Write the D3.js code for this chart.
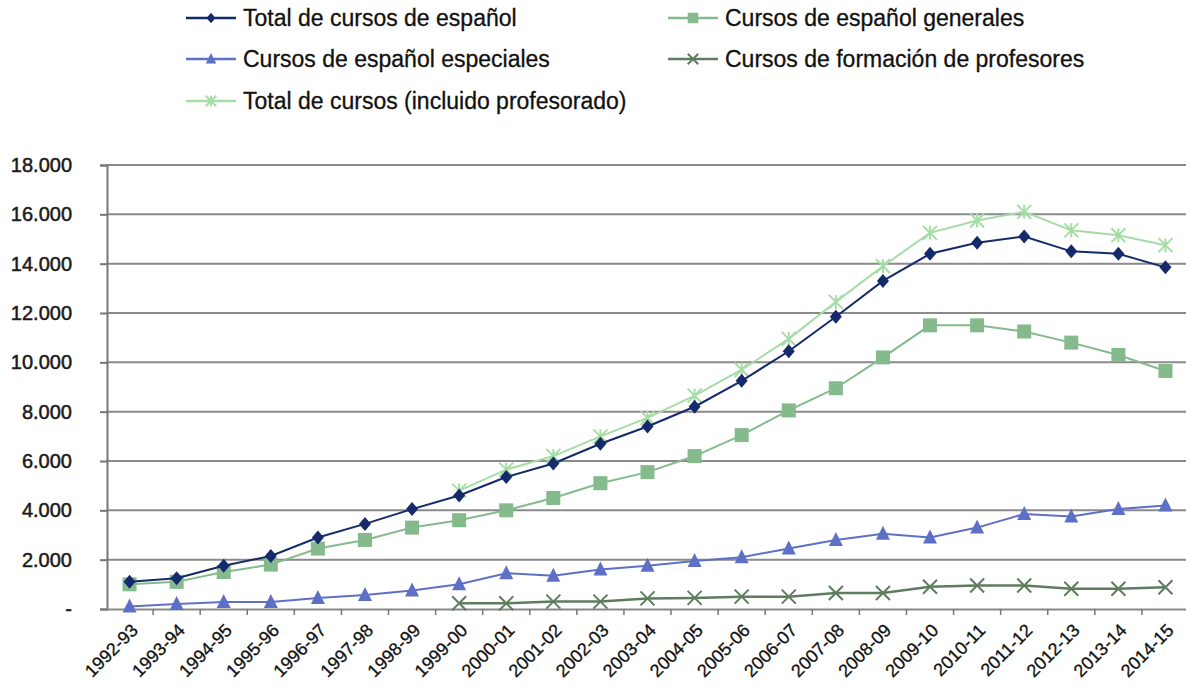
<!DOCTYPE html>
<html><head><meta charset="utf-8">
<script src="https://cdn.jsdelivr.net/npm/d3@7"></script>
<style>body{margin:0;background:#fff}svg{display:block}text{font-family:"Liberation Sans",Arial,sans-serif}</style>
</head><body>
<svg id="c" width="1186" height="686"></svg>
<script>
const categories = ["1992-93","1993-94","1994-95","1995-96","1996-97","1997-98","1998-99","1999-00","2000-01","2001-02","2002-03","2003-04","2004-05","2005-06","2006-07","2007-08","2008-09","2009-10","2010-11","2011-12","2012-13","2013-14","2014-15"];
const totalEspanol = [1100,1250,1750,2150,2900,3450,4050,4600,5350,5900,6700,7400,8200,9250,10450,11850,13300,14400,14850,15100,14500,14400,13850];
const generales = [1000,1100,1500,1800,2450,2800,3300,3600,4000,4500,5100,5550,6200,7050,8050,8950,10200,11500,11500,11250,10800,10300,9650];
const especiales = [100,200,280,280,450,570,750,1000,1450,1350,1600,1750,1950,2100,2450,2800,3050,2900,3300,3850,3750,4050,4200];
const profesores = [null,null,null,null,null,null,null,230,230,300,300,430,450,500,500,650,650,900,950,950,820,820,880];
const totalCursos = [null,null,null,null,null,null,null,4800,5650,6200,7000,7750,8650,9700,10950,12450,13900,15250,15750,16100,15350,15150,14750];
const yTicks = [0,2000,4000,6000,8000,10000,12000,14000,16000,18000];
const seriesNames = ["Total de cursos de español","Cursos de español generales","Cursos de español especiales","Cursos de formación de profesores","Total de cursos (incluido profesorado)"];

const series = [
  {name:seriesNames[0], values:totalEspanol, color:"#142a6a", marker:"diamond", width:2},
  {name:seriesNames[1], values:generales, color:"#84ba8c", marker:"square", width:2},
  {name:seriesNames[2], values:especiales, color:"#5d70c6", marker:"triangle", width:2},
  {name:seriesNames[3], values:profesores, color:"#5e7c5e", marker:"x", width:2.5},
  {name:seriesNames[4], values:totalCursos, color:"#a6dca6", marker:"star", width:2}
];
const drawOrder = [4,3,2,1,0];

const svg = d3.select("#c");
const x = d3.scaleBand().domain(categories).range([106, 1189]);
const y = d3.scaleLinear().domain([0,18000]).range([609,165]);

// gridlines
svg.append("g").selectAll("line").data(yTicks.filter(d=>d>0)).join("line")
  .attr("x1",107).attr("x2",1186).attr("y1",d=>y(d)).attr("y2",d=>y(d))
  .attr("stroke","#8a8a8a").attr("stroke-width",2);

// y axis
const yAxis = d3.axisLeft(y).tickValues(yTicks).tickSize(7).tickPadding(35)
  .tickFormat(d=> d===0 ? "-" : d3.format(",")(d).replace(/,/g,"."));
const gy = svg.append("g").attr("transform","translate(107,0)").call(yAxis);
gy.select(".domain").attr("stroke","#777").attr("stroke-width",2);
gy.selectAll(".tick line").attr("stroke","#777").attr("stroke-width",2);
gy.selectAll("text").attr("font-size",20).attr("fill","#1a1a1a").attr("stroke","#1a1a1a").attr("stroke-width",0.5).attr("x",-35);

// x axis
const xAxis = d3.axisBottom(x).tickSize(0).tickPadding(0);
const gx = svg.append("g").attr("transform","translate(0,609)").call(xAxis);
gx.select(".domain").attr("stroke","#888").attr("stroke-width",2);
gx.selectAll(".tick text").attr("font-size",18).attr("fill","#111").attr("stroke","#111").attr("stroke-width",0.3)
  .attr("text-anchor","end").attr("transform","translate(5,18) rotate(-45)").attr("dy","0.35em");
// band boundary ticks
svg.append("g").selectAll("line").data(categories.slice(1)).join("line")
  .attr("x1",d=>x(d)).attr("x2",d=>x(d)).attr("y1",609).attr("y2",615)
  .attr("stroke","#777").attr("stroke-width",1.5);

const cx = d=>x(d)+x.bandwidth()/2;

function drawMarker(g, type, color, px, py, s){
  s = s||1;
  if(type==="diamond"){
    g.append("path").attr("d",`M${px},${py-7*s}L${px+6*s},${py}L${px},${py+7*s}L${px-6*s},${py}Z`).attr("fill",color);
  } else if(type==="square"){
    g.append("rect").attr("x",px-7*s).attr("y",py-7*s).attr("width",14*s).attr("height",14*s).attr("fill",color);
  } else if(type==="triangle"){
    g.append("path").attr("d",`M${px},${py-8*s}L${px+7*s},${py+6*s}L${px-7*s},${py+6*s}Z`).attr("fill",color);
  } else if(type==="x"){
    const r=7*s;
    g.append("path").attr("d",`M${px-r},${py-r}L${px+r},${py+r}M${px-r},${py+r}L${px+r},${py-r}`).attr("stroke",color).attr("stroke-width",2);
  } else if(type==="star"){
    const r=7*s;
    g.append("path").attr("d",`M${px-r},${py-r}L${px+r},${py+r}M${px-r},${py+r}L${px+r},${py-r}M${px},${py-r}L${px},${py+r}`).attr("stroke",color).attr("stroke-width",2);
  }
}

const line = d3.line().defined(d=>d[1]!=null).x(d=>cx(d[0])).y(d=>y(d[1]));
drawOrder.forEach(i=>{
  const s = series[i];
  const pts = categories.map((c,j)=>[c,s.values[j]]);
  const g = svg.append("g");
  g.append("path").datum(pts).attr("d",line).attr("fill","none").attr("stroke",s.color).attr("stroke-width",s.width);
  pts.filter(p=>p[1]!=null).forEach(p=>drawMarker(g,s.marker,s.color,cx(p[0]),y(p[1])));
});

// legend
const legendPos = [[186,18],[668,18],[186,59],[668,59],[186,101]];
series.forEach((s,i)=>{
  const [lx,ly] = legendPos[i];
  const g = svg.append("g");
  g.append("line").attr("x1",lx).attr("x2",lx+50).attr("y1",ly).attr("y2",ly).attr("stroke",s.color).attr("stroke-width",2.5);
  drawMarker(g,s.marker,s.color,lx+25,ly,0.75);
  g.append("text").attr("x",lx+57).attr("y",ly).attr("dy","0.35em").attr("font-size",23)
    .attr("fill","#111").attr("stroke","#111").attr("stroke-width",0.3).text(s.name);
});
</script>
</body></html>
